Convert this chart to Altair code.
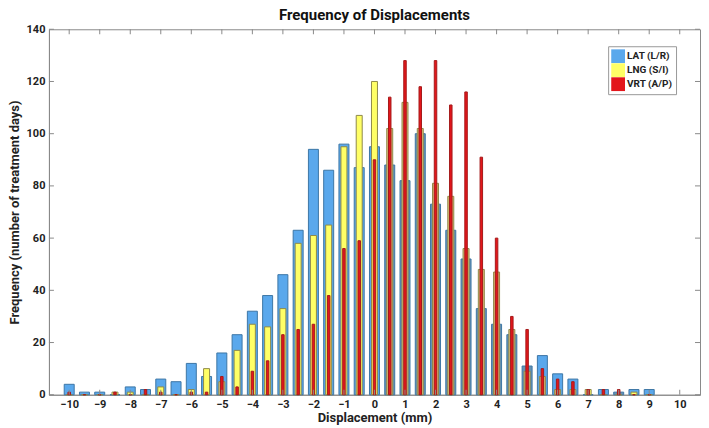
import altair as alt
import pandas as pd

bins = [-10, -9.5, -9, -8.5, -8, -7.5, -7, -6.5, -6, -5.5, -5, -4.5, -4, -3.5, -3, -2.5,
        -2, -1.5, -1, -0.5, 0, 0.5, 1, 1.5, 2, 2.5, 3, 3.5, 4, 4.5, 5, 5.5, 6, 6.5, 7,
        7.5, 8, 8.5, 9]
lat = [4, 1, 1, 0, 3, 2, 6, 5, 12, 7, 16, 23, 32, 38, 46, 63, 94, 86, 96, 87, 95, 88,
       82, 100, 73, 63, 52, 33, 27, 23, 11, 15, 8, 6, 0, 2, 1, 2, 2]
lng = [0, 0, 0, 1, 1, 0, 3, 0, 2, 10, 5, 17, 27, 26, 33, 58, 61, 65, 95, 107, 120, 102,
       112, 102, 81, 76, 56, 48, 47, 25, 9, 7, 2, 2, 2, 0, 0, 1, 0]
vrt = [1, 0, 0, 1, 0, 2, 1, 0, 1, 1, 7, 3, 9, 13, 23, 25, 27, 38, 56, 59, 90, 114, 128,
       118, 128, 111, 116, 91, 60, 30, 25, 10, 6, 5, 2, 2, 2, 0, 0]
series_names = ["LAT (L/R)", "LNG (S/I)", "VRT (A/P)"]
x_ticks = list(range(-10, 11))
y_ticks = list(range(0, 141, 20))

W, H = 652, 366

rows = []
for b, a, g, v in zip(bins, lat, lng, vrt):
    rows.append({"bin": b, "series": series_names[0], "value": a,
                 "key": series_names[0] if v <= a else "LAT m"})
    rows.append({"bin": b, "series": series_names[1], "value": g,
                 "key": series_names[1] if v <= g else "LNG m"})
    rows.append({"bin": b, "series": series_names[2], "value": v, "key": series_names[2]})
df = pd.DataFrame(rows)

color_scale = alt.Scale(
    domain=series_names + ["LAT m", "LNG m"],
    range=["#5aa8ec", "#ffff66", "#e3161b", "#6792b2", "#dcbb76"],
)
xs = alt.Scale(domain=[-10.5, 10.5], nice=False, zero=False)
ys = alt.Scale(domain=[0, 140], nice=False)

lab = dict(labelFont="Roboto", labelFontWeight="bold", labelFontSize=11, labelColor="#222",
           titleFont="Roboto", titleFontWeight="bold", titleFontSize=13, titleColor="#222",
           domainColor="#8a8a8a", ticks=False, grid=False, labelOverlap=False)
x_axis = alt.Axis(values=x_ticks, title="Displacement (mm)", labelPadding=4, titlePadding=2, **lab)
y_axis = alt.Axis(values=y_ticks, title="Frequency (number of treatment days)",
                  labelPadding=4, titlePadding=5, **lab)

def layer(name, size, stroke, legend=False):
    enc_color = alt.Color(
        "key:N", scale=color_scale,
        legend=alt.Legend(
            title=None, values=series_names, orient="none", legendX=W - 92, legendY=17,
            symbolType="square", symbolSize=190, symbolStrokeWidth=0,
            labelFont="Roboto", labelFontWeight="bold", labelFontSize=10, labelColor="#222",
            strokeColor="#999", fillColor="white", padding=3, rowPadding=0,
            symbolOffset=0, labelOffset=2,
        ) if legend else None,
    )
    return alt.Chart(df).transform_filter(alt.datum.series == name).mark_bar(
        size=size, stroke=stroke, strokeWidth=1
    ).encode(
        x=alt.X("bin:Q", scale=xs, axis=x_axis),
        y=alt.Y("value:Q", scale=ys, axis=y_axis),
        color=enc_color,
    )

b1 = layer(series_names[0], 10, "#3d76a6", legend=True)
b2 = layer(series_names[1], 6, "#8f8a4a")
b3 = layer(series_names[2], 2.5, "#a51a1a")

xt = pd.DataFrame({"t": x_ticks})
yt = pd.DataFrame({"t": y_ticks})
tc = "#8a8a8a"
xb = alt.Chart(xt).mark_rule(color=tc).encode(x=alt.X("t:Q", scale=xs, axis=x_axis), y=alt.value(H), y2=alt.value(H - 5))
xtp = alt.Chart(xt).mark_rule(color=tc).encode(x=alt.X("t:Q", scale=xs, axis=x_axis), y=alt.value(0), y2=alt.value(5))
yl = alt.Chart(yt).mark_rule(color=tc).encode(y=alt.Y("t:Q", scale=ys, axis=y_axis), x=alt.value(0), x2=alt.value(5))
yr = alt.Chart(yt).mark_rule(color=tc).encode(y=alt.Y("t:Q", scale=ys, axis=y_axis), x=alt.value(W), x2=alt.value(W - 5))

chart = alt.layer(b1, b2, b3, xb, xtp, yl, yr).properties(
    width=W, height=H, padding=0,
    title=alt.TitleParams("Frequency of Displacements", font="Roboto", fontWeight="bold",
                          fontSize=15, color="#111", offset=0),
).configure_view(stroke="#8a8a8a", strokeWidth=1)

chart.save("out.html", embed_options={"renderer": "svg", "actions": False})
